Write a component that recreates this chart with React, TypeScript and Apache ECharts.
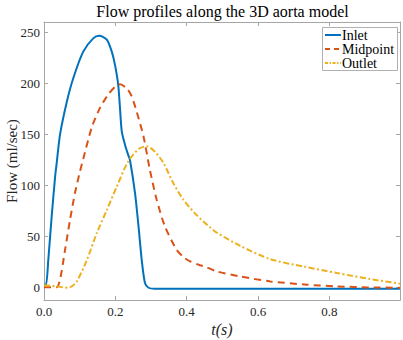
import React, { useEffect, useRef } from "react";
import * as echarts from "echarts";

const titleText = "Flow profiles along the 3D aorta model";
const seriesNames = ["Inlet", "Midpoint", "Outlet"];
const seriesColors = ["#0072BD", "#D95319", "#EDB120"];
const seriesDash: (number[] | "solid")[] = ["solid", [7, 5], [6, 2.5, 2, 2.5]];

const inletT = [0, 0.0056, 0.012, 0.0216, 0.031, 0.0356, 0.045, 0.064, 0.082, 0.11, 0.138, 0.155, 0.176, 0.19, 0.199, 0.208, 0.213, 0.218, 0.227, 0.236, 0.241, 0.255, 0.265, 0.274, 0.283, 0.293, 0.31, 0.5, 0.998];
const inletV = [3, 3, 27, 70, 108, 122, 150, 182, 205, 231, 244, 246.5, 242.7, 231, 218, 198.6, 176, 153, 140, 130, 125, 93, 60, 27, 4.6, 0, -1, -1, -1];

const midT = [0, 0.035, 0.045, 0.059, 0.073, 0.087, 0.101, 0.11, 0.134, 0.157, 0.18, 0.2, 0.213, 0.232, 0.245, 0.26, 0.279, 0.297, 0.316, 0.339, 0.372, 0.391, 0.41, 0.4376, 0.456, 0.484, 0.55, 0.634, 0.737, 0.821, 0.914, 0.998];
const midV = [0.5, 0.5, 8, 37, 66.5, 93, 114, 126, 157, 176, 189, 197, 199, 195, 188, 172, 148, 115, 86, 60, 37, 30, 25.7, 22, 20, 16, 11, 6.2, 3, 1.3, 0.3, 0];

const outT = [0, 0.035, 0.068, 0.08, 0.092, 0.12, 0.148, 0.176, 0.204, 0.236, 0.265, 0.288, 0.311, 0.335, 0.363, 0.391, 0.428, 0.466, 0.484, 0.55, 0.634, 0.727, 0.821, 0.914, 0.998];
const outV = [2.5, 1.3, 0, 2, 6, 27, 53.5, 76, 99, 123.6, 135.7, 138.5, 133, 122, 102, 86, 71, 59, 54, 41, 28, 20.8, 14.4, 8.5, 4];

const xTicks = [0, 0.2, 0.4, 0.6, 0.8];
const yTicks = [0, 50, 100, 150, 200, 250];

const FONT = "Liberation Serif";
const AXIS_GRAY = "#a6a6a6";
const TEXT = "#262626";

function pairs(t: number[], v: number[]) {
  return t.map((x, i) => [x, v[i]]);
}

export default function App() {
  const ref = useRef<HTMLDivElement>(null);
  useEffect(() => {
    if (!ref.current) return;
    const chart = echarts.init(ref.current, undefined, { renderer: "svg" });
    const xBase = {
      type: "value" as const,
      min: 0,
      max: 0.998,
      axisLine: { show: true, onZero: false, lineStyle: { color: AXIS_GRAY, width: 1 } },
      axisTick: { show: true, inside: true, length: 4, customValues: xTicks, lineStyle: { color: AXIS_GRAY } },
      splitLine: { show: false },
    };
    const yBase = {
      type: "value" as const,
      min: -12,
      max: 260,
      axisLine: { show: true, onZero: false, lineStyle: { color: AXIS_GRAY, width: 1 } },
      axisTick: { show: true, inside: true, length: 4, customValues: yTicks, lineStyle: { color: AXIS_GRAY } },
      splitLine: { show: false },
    };
    const graphics: any[] = [];
    graphics.push({
      type: "text",
      x: 222.5,
      y: 11,
      style: {
        text: titleText,
        fontFamily: FONT,
        fontSize: 16,
        fill: "#000",
        align: "center",
        verticalAlign: "middle",
      },
      z: 101,
    });
    const lx = 322, ly = 27, lw = 75, lh = 43;
    graphics.push({
      type: "rect",
      shape: { x: lx + 0.5, y: ly + 0.5, width: lw, height: lh },
      style: { fill: "#fff", stroke: "#b0b0b0", lineWidth: 1 },
      z: 100,
    });
    seriesNames.forEach((name, i) => {
      const cy = ly + 8 + i * 14;
      const dash = seriesDash[i];
      graphics.push({
        type: "line",
        shape: { x1: lx + 3, y1: cy, x2: lx + 19, y2: cy },
        style: {
          stroke: seriesColors[i],
          lineWidth: 2,
          lineDash: dash === "solid" ? null : i === 1 ? [5, 4] : [3, 1.5, 1.5, 1.5],
        },
        z: 101,
      });
      graphics.push({
        type: "text",
        x: lx + 20,
        y: cy,
        style: {
          text: name,
          fontFamily: FONT,
          fontSize: 14,
          fill: "#000",
          verticalAlign: "middle",
          align: "left",
        },
        z: 101,
      });
    });
    chart.setOption({
      animation: false,
      backgroundColor: "#ffffff",
      grid: { left: 44, right: 3, top: 22, bottom: 40, containLabel: false, outerBoundsMode: "none" },
      xAxis: [
        {
          ...xBase,
          position: "bottom",
          name: "t(s)",
          nameLocation: "middle",
          nameGap: 21,
          nameMoveOverlap: false,
          nameTextStyle: { fontFamily: FONT, fontSize: 16, fontStyle: "italic", color: TEXT },
          axisLabel: {
            customValues: xTicks,
            formatter: (v: number) => v.toFixed(1),
            fontFamily: FONT,
            fontSize: 13,
            color: TEXT,
            margin: 5,
          },
        },
        { ...xBase, position: "top", axisLabel: { show: false } },
      ],
      yAxis: [
        {
          ...yBase,
          position: "left",
          name: "Flow (ml/sec)",
          nameLocation: "middle",
          nameGap: 25,
          nameMoveOverlap: false,
          nameTextStyle: { fontFamily: FONT, fontSize: 15, color: TEXT },
          axisLabel: {
            customValues: yTicks,
            fontFamily: FONT,
            fontSize: 13,
            color: TEXT,
            margin: 4,
          },
        },
        { ...yBase, position: "right", axisLabel: { show: false } },
      ],
      graphic: graphics,
      series: [inletT, midT, outT].map((t, i) => ({
        name: seriesNames[i],
        type: "line",
        data: pairs(t, [inletV, midV, outV][i]),
        showSymbol: false,
        symbol: "none",
        smooth: 0.25,
        lineStyle: { color: seriesColors[i], width: 2, type: seriesDash[i] },
        itemStyle: { color: seriesColors[i] },
      })),
    });
    return () => chart.dispose();
  }, []);
  return (
    <div
      ref={ref}
      style={{ position: "absolute", left: 0, top: 0, width: 403, height: 340 }}
    />
  );
}
